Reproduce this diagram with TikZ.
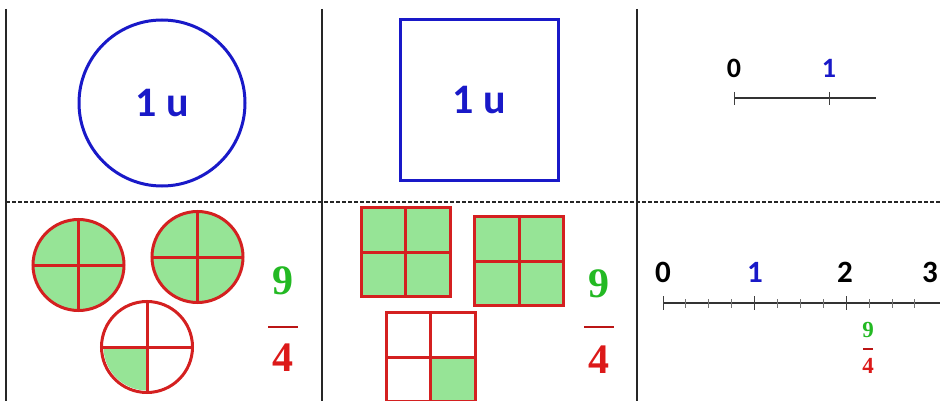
\documentclass[tikz,border=0pt]{standalone}
\usepackage{fontspec}
\setmainfont{Liberation Serif}
\newfontfamily\labelfont{Carlito}
\usetikzlibrary{positioning}
\definecolor{unitblue}{RGB}{25,25,200}
\definecolor{partred}{RGB}{212,32,32}
\definecolor{partgreen}{RGB}{150,228,150}
\definecolor{numgreen}{RGB}{35,185,35}
\definecolor{numred}{RGB}{220,25,25}

\begin{document}
\begin{tikzpicture}[
  x=1pt, y=-1pt,
  sep/.style={line width=1.3pt, black!85},
  unit/.style={draw=unitblue, line width=3pt, inner sep=0pt, outer sep=0pt},
  unitlabel/.style={font=\labelfont\bfseries\fontsize{42}{44}\selectfont, text=unitblue},
  part/.style={draw=partred, line width=3pt, inner sep=0pt, outer sep=0pt},
  partcirc/.style={part, circle, minimum size=91pt},
  partsq/.style={part, rectangle, minimum size=89pt},
  full/.style={fill=partgreen},
  axis/.style={line width=1.1pt, black!80},
  tick/.style={line width=1pt, black!75},
  numlabel/.style={font=\labelfont\bfseries\fontsize{#1}{#1}\selectfont, inner sep=0pt},
  fracnum/.style={font=\bfseries\fontsize{#1}{#1}\selectfont, text=numgreen, inner sep=0pt},
  fracden/.style={font=\bfseries\fontsize{#1}{#1}\selectfont, text=numred, inner sep=0pt},
  fracbar/.style={draw=numred!85!black, line width=#1}
]
  \useasboundingbox (0,0) rectangle (940,401);

  % grid lines
  \draw[sep] (6,9) -- (6,401);
  \draw[sep] (322,9) -- (322,401);
  \draw[sep] (637,9) -- (637,401);
  \draw[sep, line width=1.1pt, dash pattern=on 4pt off 2pt] (6,202) -- (940,202);

  % the unit
  \node[unit, circle, minimum size=166pt] (ucirc) at (162,103) {};
  \node[unitlabel] at (ucirc.center) {1 u};
  \node[unit, rectangle, minimum width=158pt, minimum height=161pt] (usq) at (479,100.5) {};
  \node[unitlabel] at (usq.center) {1 u};

  \coordinate (t0) at (734,98);
  \coordinate (t1) at (829,98);
  \coordinate (tend) at (876,98);
  \draw[axis] (t0) -- (tend);
  \draw[tick] ([yshift=6pt]t0) -- ([yshift=-7pt]t0);
  \draw[tick] ([yshift=6pt]t1) -- ([yshift=-7pt]t1);
  \node[numlabel=28] (lab0) at (734,68.5) {0};
  \node[numlabel=28, text=unitblue] (lab1) at (829,68.5) {1};

  % nine quarters as circles
  \node[partcirc, full] (c1) at (78.5,265) {};
  \node[partcirc, full] (c2) at (197.5,257) {};
  \node[partcirc] (c3) at (147,347) {};
  \fill[partgreen] ([xshift=-43.5pt]c3.center) arc[start angle=180, end angle=270, radius=43.5pt] -- (c3.center) -- cycle;
  \foreach \c in {c1,c2,c3}{
    \draw[part] (\c.north) -- (\c.south);
    \draw[part] (\c.west) -- (\c.east);
  }
  \node[fracnum=42] (cnum) at (283,281) {9};
  \node[fracden=42] (cden) at (283,357.5) {4};
  \draw[fracbar=2.2pt] (268,327) -- (298,327);

  % nine quarters as squares
  \node[partsq, full] (s1) at (405.5,252) {};
  \node[partsq, full] (s2) at (519,261) {};
  \node[partsq] (s3) at (430.5,357) {};
  \fill[partgreen] (s3.center) rectangle ([shift={(-1.5pt,1.5pt)}]s3.south east);
  \foreach \s in {s1,s2,s3}{
    \draw[part] (\s.north) -- (\s.south);
    \draw[part] (\s.west) -- (\s.east);
  }
  \node[fracnum=42] (snum) at (599,284) {9};
  \node[fracden=42] (sden) at (599,360) {4};
  \draw[fracbar=2.2pt] (584,327) -- (614,327);

  % nine quarters on the number line
  \coordinate (n0) at (663,303);
  \coordinate (nend) at (940,303);
  \draw[axis] (n0) -- (nend);
  \foreach \k in {0,...,11}{
    \pgfmathsetmacro{\tx}{663+22.9*\k}
    \ifnum\numexpr\k-4*(\k/4)\relax=0
      \draw[tick] (\tx,296) -- (\tx,310);
    \else
      \draw[tick, black!55] (\tx,299) -- (\tx,308);
    \fi
  }
  \node[numlabel=31] (nl0) at (663,272.5) {0};
  \node[numlabel=31, text=unitblue] (nl1) at (755,272.5) {1};
  \node[numlabel=31] (nl2) at (845,272.5) {2};
  \node[numlabel=31] (nl3) at (930,272.5) {3};
  \node[fracnum=23] (lnum) at (868,329.5) {9};
  \node[fracden=23] (lden) at (868,365.5) {4};
  \draw[fracbar=1.5pt] (863,349) -- (873,349);
\end{tikzpicture}
\end{document}
